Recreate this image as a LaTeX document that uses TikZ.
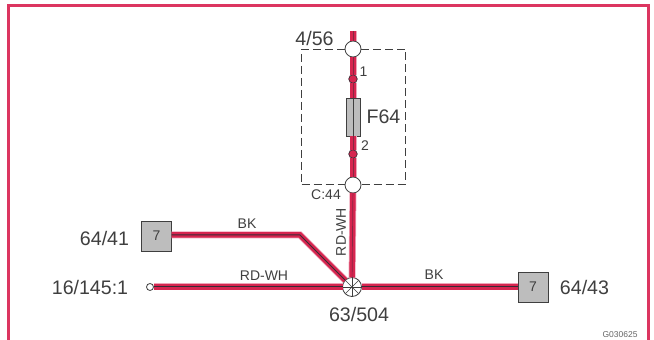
\documentclass[tikz,border=0pt]{standalone}
\usepackage{fontspec}
\setmainfont{Liberation Sans}
\definecolor{framered}{HTML}{DC3560}
\definecolor{wirered}{HTML}{D6254F}
\definecolor{wirepink}{HTML}{EFA5B8}
\definecolor{wirecore}{HTML}{3A2A35}
\definecolor{boxgray}{HTML}{BDBDBD}
\definecolor{inkgray}{HTML}{3F3F3F}
\begin{document}
\begin{tikzpicture}[x=1pt,y=1pt]
\tikzset{ >=latex, inner sep=0pt, outer sep=0pt,
  wire/.style={line width=1pt, draw=wirecore, line join=round,
    preaction={draw=wirepink, line width=7pt},
    preaction={draw=wirered, line width=5.5pt}},
  feedwire/.style={line width=0.7pt, draw=wirecore!50!wirered,
    preaction={draw=wirepink, line width=7pt},
    preaction={draw=wirered, line width=5.5pt}},
  unit/.style={draw=inkgray, fill=boxgray, line width=0.9pt, minimum size=30pt, font=\fontsize{14}{14}\selectfont, text=inkgray},
  ring/.style={draw=inkgray, fill=white, circle, line width=0.8pt},
  pin/.style={draw=wirecore, fill=wirered, circle, minimum size=8.5pt, line width=0.7pt},
  big/.style={font=\fontsize{19.6}{20}\selectfont, text=inkgray},
  small/.style={font=\fontsize{14}{14}\selectfont, text=inkgray},
}
\useasboundingbox (0,0) rectangle (654,340);

%\draw [lightgray, dashed](0,0) grid (654,340);

% frame, open at the bottom
\coordinate (FA) at (8.5,0);
\coordinate (FB) at (8.5,334.5);
\coordinate (FC) at (648.5,334.5);
\coordinate (FD) at (648.5,0);
\draw [framered, line width=2.2pt] (FA) -- (FB) -- (FC) -- (FD);

% dashed fuse box
\node [draw=inkgray, line width=0.7pt, dash pattern=on 8pt off 4pt, minimum width=104pt, minimum height=135pt] (BOX) at (353.5,223.5) {};

\node [ring, minimum size=16pt] (TOP) at (353,291) {};
\node [ring, minimum size=16pt] (BOT) at (353,155) {};
\node [pin] (P1) at (353,261) {};
\node [pin] (P2) at (353,186) {};
\node [draw=inkgray, fill=boxgray, line width=0.8pt, minimum width=14pt, minimum height=38pt] (FUSE) at (353,223) {};
\node [ring, minimum size=19pt] (J) at (352,53) {};
\node [unit] (U1) at (156.5,104) {7};
\node [unit] (U2) at (533,53) {7};
\node [ring, minimum size=7pt] (E) at (150,53) {};
\coordinate (WT) at (353,309);
\coordinate (KN) at (300,105);

\draw [feedwire] (WT) -- (TOP);
\draw [feedwire] (TOP) -- (P1);
\draw [feedwire] (P1) -- (FUSE);
\draw [feedwire] (FUSE) -- (P2);
\draw [feedwire] (P2) -- (BOT);
\draw [feedwire] (BOT) -- (J);
\draw [wire] (U1.east |- KN) -- (KN) -- (J);
\draw [wire] (E) -- (J);
\draw [wire] (J) -- (U2);

\draw [inkgray, line width=0.7pt] (FUSE.north) -- (FUSE.south);
\foreach \a in {0,45,90,135} {
  \draw [inkgray, line width=0.5pt] (J.\a) -- (J.\a+180);
}

\node [big] (L1) at (314.5,301.5) {4/56};
\node [big] (L2) at (383.5,223) {F64};
\node [big] (L3) at (104.5,102) {64/41};
\node [big] (L4) at (90,53) {16/145:1};
\node [big] (L5) at (584.5,53) {64/43};
\node [big] (L6) at (359,26) {63/504};
\node [small] (L7) at (363.5,268) {1};
\node [small] (L8) at (365,194) {2};
\node [small] (L9) at (326,145) {C:44};
\node [small, rotate=90] (L10) at (341,108) {RD-WH};
\node [small] (L11) at (247,116) {BK};
\node [small] (L12) at (264,64) {RD-WH};
\node [small] (L13) at (434,65) {BK};
\node [font=\fontsize{8.5}{9}\selectfont, text=inkgray!80] (L14) at (620,5.5) {G030625};

\end{tikzpicture}
\end{document}
